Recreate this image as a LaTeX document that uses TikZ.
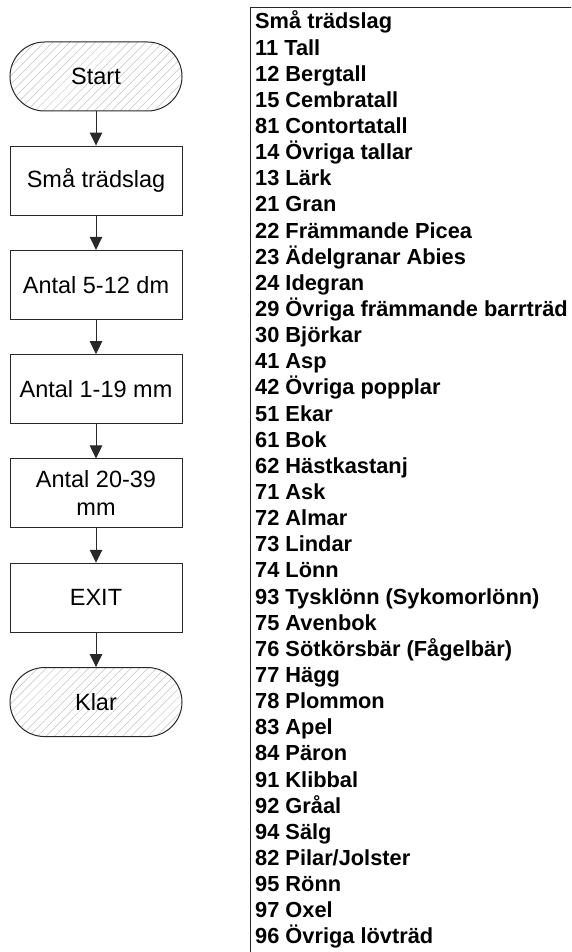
\documentclass[tikz,border=0pt]{standalone}
\usepackage{fontspec}
\setmainfont{Liberation Sans}
\usepackage{tikz}
\usetikzlibrary{arrows.meta,positioning,patterns.meta}
\definecolor{kantlinje}{RGB}{40,40,40}
\definecolor{skraffering}{RGB}{195,195,195}

\begin{document}
\begin{tikzpicture}[x=1pt,y=-1pt,
  font=\fontsize{23.5}{28}\selectfont,
  steg/.style={draw=kantlinje,line width=1pt,minimum width=172pt,minimum height=69pt,inner sep=0pt,align=center},
  terminal/.style={steg,rounded corners=34.5pt,pattern={Lines[angle=45,distance=6pt,line width=0.5pt]},pattern color=skraffering},
  pil/.style={draw=kantlinje,line width=1pt,-{Triangle[length=13pt,width=12.5pt]}},
  listrad/.style={anchor=base west,inner sep=0pt,font=\fontsize{21.8}{26}\selectfont\bfseries},
  node distance=34.3pt]
  \useasboundingbox (0,0) rectangle (571,952);
  % flodesschema
  \node[terminal] (start) at (96,76.5) {Start};
  \node[steg,below=of start] (sma) {Små trädslag};
  \node[steg,below=of sma] (antal1) {Antal 5-12 dm};
  \node[steg,below=of antal1] (antal2) {Antal 1-19 mm};
  \node[steg,below=of antal2] (antal3) {Antal 20-39\\mm};
  \node[steg,below=of antal3] (exit) {EXIT};
  \node[terminal,below=of exit] (klar) {Klar};
  \draw[pil] (start) -- (sma);
  \draw[pil] (sma) -- (antal1);
  \draw[pil] (antal1) -- (antal2);
  \draw[pil] (antal2) -- (antal3);
  \draw[pil] (antal3) -- (exit);
  \draw[pil] (exit) -- (klar);
  % lista med tradslag
  \begin{scope}
    \clip (0,0) rectangle (571,952);
    \coordinate (ram) at (250.5,7.5);
    \draw[kantlinje,line width=1.2pt] (600,7.5) -- (ram) -- (250.5,980);
  \end{scope}
  \foreach \art [count=\i from 0] in {Små trädslag,11 Tall,12 Bergtall,15 Cembratall,
    81 Contortatall,14 Övriga tallar,13 Lärk,21 Gran,22 Främmande Picea,
    23 Ädelgranar Abies,24 Idegran,29 Övriga främmande barrträd,30 Björkar,41 Asp,
    42 Övriga popplar,51 Ekar,61 Bok,62 Hästkastanj,71 Ask,72 Almar,73 Lindar,
    74 Lönn,93 Tysklönn (Sykomorlönn),75 Avenbok,76 Sötkörsbär (Fågelbär),77 Hägg,
    78 Plommon,83 Apel,84 Päron,91 Klibbal,92 Gråal,94 Sälg,82 Pilar/Jolster,
    95 Rönn,97 Oxel,96 Övriga lövträd}
    \node[listrad] (rad\i) at (255,{29+26.14*\i}) {\art};
\end{tikzpicture}
\end{document}
